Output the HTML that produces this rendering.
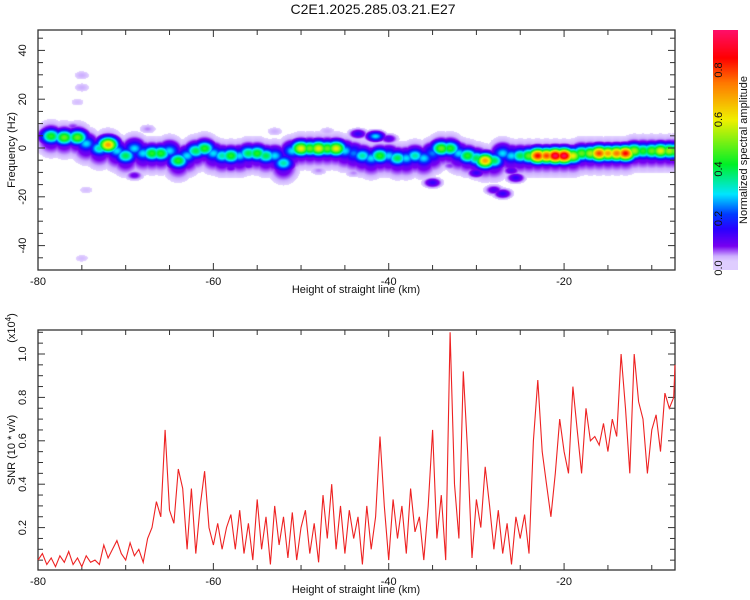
<!DOCTYPE html>
<html><head><meta charset="utf-8">
<style>
body{margin:0;background:#fff;}
#wrap{position:relative;width:750px;height:600px;overflow:hidden;font-family:"Liberation Sans",sans-serif;}
canvas,svg{position:absolute;left:0;top:0;}
</style></head>
<body>
<div id="wrap">
<canvas id="spec" width="637" height="240" style="left:38px;top:30px"></canvas>
<canvas id="cbar" width="25" height="240" style="left:713px;top:30px"></canvas>
<svg id="svg" width="750" height="600"></svg>
</div>
<script>
// ---- spectrogram data (blobs along ridge) ----
const ridgeX=[-78.5,-77,-75.5,-74.5,-73,-72,-71,-70,-69,-68,-67,-66,-65,-64,-63,-62,-61,-60,-59,-58,-57,-56,-55,-54,-53,-52,-51,-50,-49,-48,-47,-46,-45,-44,-43,-42,-41,-40,-39,-38,-37,-36,-35,-34,-33,-32,-31,-30,-29,-28,-27,-26,-25,-24,-23,-22,-21,-20,-19,-18,-17,-16,-15,-14,-13,-12,-11,-10,-9,-8,-7.5];
const ridgeF=[5,4.5,4.5,2,0,1.5,-1,-3,0,-2,-2,-2,-1,-5,-3,-1,0,-2,-3,-3,-3,-2,-2,-3,-3,-6,-1,0,0,0,0,0,-1,-2,-3,-4,-3,-3,-4,-4,-3,-4,-2,0,0,-2,-3,-4,-5,-5,-2,-3,-3,-3,-3,-3,-3,-3,-3,-2,-2,-2,-2,-2,-2,-1,-1,-1,-1,-1,-1];
const ridgeA=[0.45,0.5,0.5,0.3,0.35,0.7,0.3,0.4,0.3,0.3,0.45,0.45,0.3,0.45,0.3,0.4,0.45,0.3,0.35,0.45,0.3,0.4,0.45,0.4,0.3,0.35,0.3,0.6,0.5,0.6,0.5,0.6,0.3,0.25,0.35,0.3,0.45,0.3,0.4,0.3,0.35,0.3,0.25,0.5,0.45,0.3,0.45,0.4,0.7,0.4,0.3,0.3,0.4,0.5,0.85,0.8,0.95,0.95,0.6,0.5,0.55,0.8,0.7,0.75,0.85,0.55,0.45,0.5,0.6,0.55,0.5];
const spotX=[-43.5,-41.5,-40,-35,-30,-28,-27,-25.5,-26,-75,-75,-75.5,-74.5,-75,-69,-58,-52,-48,-44,-76,-67.5,-53,-47,-63,-56,-38,-33];
const spotF=[6,5,4,-14,-10,-17,-18.5,-12,-9,30,25,19,-17,-45,-11,-8,-7,-9,-10,9,8,7,7,-6,-7,-8,-7];
const spotA=[0.15,0.3,0.12,0.15,0.15,0.12,0.15,0.15,0.12,0.05,0.05,0.04,0.04,0.04,0.1,0.1,0.2,0.06,0.06,0.08,0.06,0.05,0.05,0.1,0.1,0.08,0.08];
// ---- SNR data (x = -80 + i*0.5, last point at -7.35) ----
const snr=[.05,.08,.03,.06,.02,.07,.04,.09,.03,.06,
.02,.07,.04,.05,.03,.12,.06,.10,.14,.08,
.05,.13,.07,.10,.04,.15,.20,.32,.25,.65,
.28,.22,.47,.38,.10,.38,.08,.30,.46,.20,
.12,.22,.10,.20,.26,.10,.28,.08,.22,.05,
.33,.10,.25,.03,.30,.12,.25,.06,.27,.05,
.20,.28,.08,.22,.04,.35,.15,.40,.10,.30,
.08,.28,.15,.25,.03,.30,.10,.25,.62,.30,
.05,.33,.15,.30,.08,.38,.18,.25,.05,.30,
.65,.15,.35,.05,1.10,.40,.15,.92,.55,.06,
.33,.20,.48,.30,.10,.28,.08,.22,.03,.25,
.15,.26,.08,.60,.88,.55,.40,.25,.45,.70,
.55,.45,.85,.65,.45,.75,.60,.62,.58,.68,
.55,.70,.62,1.00,.75,.45,1.0,.78,.70,.45,
.65,.72,.55,.82,.75,.80,.95];
const xTicks=[-80,-60,-40,-20];
const fTicks=[40,20,0,-20,-40];
const sTicks=[0.2,0.4,0.6,0.8,1.0];
const cTicks=[0.0,0.2,0.4,0.6,0.8];

const X0=38,X1=675,xmin=-80,xmax=-7.35;
const xs=v=>X0+(v-xmin)/(xmax-xmin)*(X1-X0);
const fy=f=>148-f*2.44;
const sy=v=>571-v*217;
const cy=v=>268-v*247.5;

const stops=[[0,[255,255,255]],[0.02,[232,220,255]],[0.05,[205,175,255]],[0.09,[120,0,240]],[0.16,[40,0,255]],[0.22,[0,60,255]],[0.3,[0,230,255]],[0.42,[0,240,40]],[0.6,[240,240,0]],[0.75,[255,120,0]],[0.85,[255,0,0]],[1,[255,20,140]]];
function cmap(v){v=Math.max(0,Math.min(1,v));for(let i=1;i<stops.length;i++){if(v<=stops[i][0]){const a=stops[i-1],b=stops[i],t=(v-a[0])/(b[0]-a[0]);return a[1].map((c,k)=>Math.round(c+(b[1][k]-c)*t));}}return stops[stops.length-1][1];}

(function(){
 const c=document.getElementById('spec'),ctx=c.getContext('2d'),W=c.width,H=c.height;
 const img=ctx.createImageData(W,H);
 const blobs=[];
 for(let i=0;i<ridgeX.length;i++){
  blobs.push([ridgeX[i],ridgeF[i],ridgeA[i],0.8,2.2]);
  blobs.push([ridgeX[i],ridgeF[i],0.22,0.9,3.0]);
  blobs.push([ridgeX[i],ridgeF[i]-1,0.13,1.1,4.5]);
  blobs.push([ridgeX[i],ridgeF[i]-1.5,0.05,1.2,6]);
 }
 for(let i=0;i<spotX.length;i++)blobs.push([spotX[i],spotF[i],spotA[i],0.7,1.4]);
 for(let py=0;py<H;py++){
  const f=(148-(py+30))/2.44;
  for(let px=0;px<W;px++){
   const x=xmin+(px+0.5)/W*(xmax-xmin);
   let m=0;
   for(const b of blobs){const dx=(x-b[0])/b[3];if(dx>4||dx<-4)continue;const df=(f-b[1])/b[4];if(df>4||df<-4)continue;const v=b[2]*Math.exp(-0.5*(dx*dx+df*df));if(v>m)m=v;}
   const col=m<0.025?[255,255,255]:cmap(m);const k=(py*W+px)*4;
   img.data[k]=col[0];img.data[k+1]=col[1];img.data[k+2]=col[2];img.data[k+3]=255;
  }
 }
 ctx.putImageData(img,0,0);
 const cb=document.getElementById('cbar').getContext('2d');
 for(let py=0;py<240;py++){const v=(268-(py+30))/247.5;const col=cmap(Math.max(v,0.03));cb.fillStyle=`rgb(${col})`;cb.fillRect(0,py,25,1);}
})();

const svg=document.getElementById('svg');const NS='http://www.w3.org/2000/svg';
function el(t,a,txt){const e=document.createElementNS(NS,t);for(const k in a)e.setAttribute(k,a[k]);if(txt!==undefined)e.textContent=txt;svg.appendChild(e);return e;}
function frame(top,bot,name){
 const r=el('rect',{x:X0,y:top,width:X1-X0,height:bot-top,fill:'none',stroke:'#333','stroke-width':1.3});
 
 
 for(let v=-80;v<=-7.35;v+=5){const x=xs(v);const L=xTicks.includes(v)?7:5;
  el('line',{x1:x,x2:x,y1:bot,y2:bot-L,stroke:'#333'});el('line',{x1:x,x2:x,y1:top,y2:top+L,stroke:'#333'});}
}
frame(30,270,'spectrogram-frame');frame(330,570,'snr-frame');
for(let f=-50;f<=48;f+=5){const y=fy(f);const L=fTicks.includes(f)?7:5;el('line',{x1:X0,x2:X0+L,y1:y,y2:y,stroke:'#333'});el('line',{x1:X1,x2:X1-L,y1:y,y2:y,stroke:'#333'});}
for(let v=0.05;v<1.11;v+=0.05){const y=sy(v);const L=sTicks.some(t=>Math.abs(t-v)<1e-6)?7:5;el('line',{x1:X0,x2:X0+L,y1:y,y2:y,stroke:'#333'});el('line',{x1:X1,x2:X1-L,y1:y,y2:y,stroke:'#333'});}
const ts='font-size:11px;fill:#111';
for(const v of xTicks){for(const yy of [285,585]){const t=el('text',{x:xs(v),y:yy,'text-anchor':'middle',style:ts},String(v));
 
 }}
for(const v of fTicks){const t=el('text',{x:0,y:0,transform:`translate(26,${fy(v)}) rotate(-90)`,'text-anchor':'middle',style:ts},String(v));
 
 }
for(const v of sTicks){const t=el('text',{x:0,y:0,transform:`translate(26,${sy(v)}) rotate(-90)`,'text-anchor':'middle',style:ts},v.toFixed(1));
 
 }
for(const v of cTicks){const t=el('text',{x:0,y:0,transform:`translate(722,${cy(v)}) rotate(-90)`,'text-anchor':'middle',style:ts},v.toFixed(1));
 
 }
function lab(txt,x,y,rot,name,size){const t=el('text',{x:0,y:0,transform:`translate(${x},${y})`+(rot?' rotate(-90)':''),'text-anchor':'middle',style:`font-size:${size||11}px;fill:#111`},txt);
 
 return t;}
lab('C2E1.2025.285.03.21.E27',373,14,false,'chart-title',14);
lab('Height of straight line (km)',356,293,false,'x-axis-title-top');
lab('Height of straight line (km)',356,593,false,'x-axis-title-bottom');
lab('Frequency (Hz)',15,150,true,'frequency-axis-title');
lab('SNR (10 * v/v)',15,450,true,'snr-axis-title');
const ex=lab('(x10',15,328,true,'snr-exponent-label');
const ts2=document.createElementNS(NS,'tspan');ts2.setAttribute('dy','-4');ts2.setAttribute('style','font-size:8px');ts2.textContent='4';ex.appendChild(ts2);
const ts3=document.createElementNS(NS,'tspan');ts3.setAttribute('dy','4');ts3.textContent=')';ex.appendChild(ts3);
lab('Normalized spectral amplitude',747,150,true,'colorbar-title');
let d='';
snr.forEach((v,i)=>{const x=i<snr.length-1?-80+i*0.5:-7.35;d+=(i?'L':'M')+xs(x).toFixed(1)+','+sy(v).toFixed(1);});
const p=el('path',{d:d,fill:'none',stroke:'#ee2222','stroke-width':1.1});


</script>
</body></html>
